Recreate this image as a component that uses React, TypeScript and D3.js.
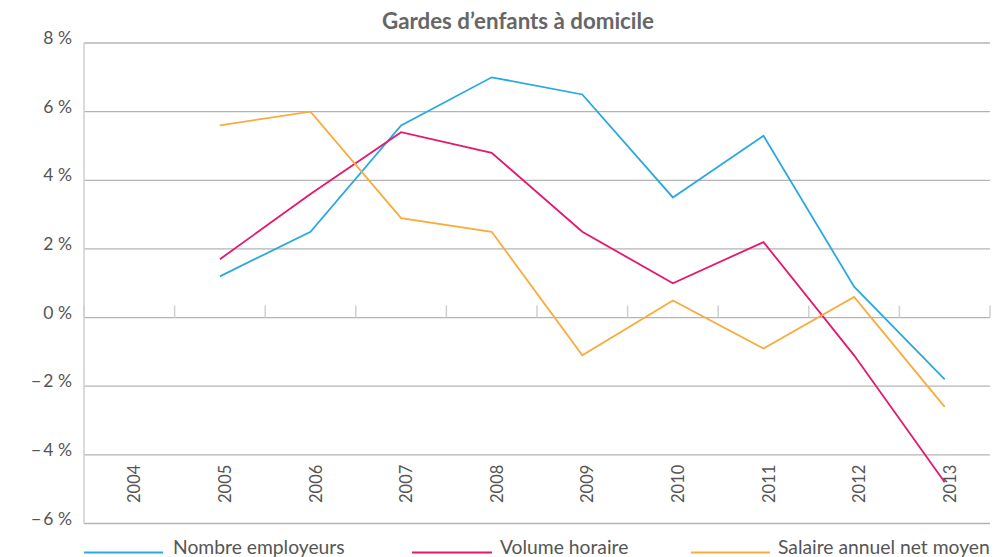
import React from "react";
import * as d3 from "d3";

const years = ["2004", "2005", "2006", "2007", "2008", "2009", "2010", "2011", "2012", "2013"];
const dataYears = ["2005", "2006", "2007", "2008", "2009", "2010", "2011", "2012", "2013"];
const nombreEmployeurs = [1.2, 2.5, 5.6, 7.0, 6.5, 3.5, 5.3, 0.9, -1.8];
const volumeHoraire = [1.7, 3.6, 5.4, 4.8, 2.5, 1.0, 2.2, -1.1, -4.8];
const salaireAnnuel = [5.6, 6.0, 2.9, 2.5, -1.1, 0.5, -0.9, 0.6, -2.6];
const yTicks = [8, 6, 4, 2, 0, -2, -4, -6];
const seriesNames = ["Nombre employeurs", "Volume horaire", "Salaire annuel net moyen"];
const seriesColors = ["#2aa9df", "#e5176f", "#f9ab3b"];
const title = "Gardes d\u2019enfants \u00e0 domicile";

const W = 996;
const H = 557;
const left = 84;
const right = 990;
const top = 43;
const bottom = 523.5;
const FONT = "Lato, 'Open Sans', sans-serif";

export default function App() {
  const x = d3.scaleBand().domain(years).range([left, right]).padding(0);
  const y = d3.scaleLinear().domain([-6, 8]).range([bottom, top]);
  const cx = (yr: string) => (x(yr) as number) + x.bandwidth() / 2;
  const series = [nombreEmployeurs, volumeHoraire, salaireAnnuel];
  const line = d3
    .line<[string, number]>()
    .x((d) => cx(d[0]))
    .y((d) => y(d[1]));
  const fmt = (v: number) => (v < 0 ? "\u2212\u2009" + Math.abs(v) : String(v)) + "\u00a0%";
  const legendX = [[84, 163, 173], [412, 492, 500], [691, 770, 778]];
  return (
    <svg width={W} height={H} style={{ position: "absolute", left: 0, top: 0, background: "#fff" }}>
      <text x={518} y={29} textAnchor="middle" fontFamily={FONT} fontWeight="bold" fontSize={22.3} fill="#666">
        {title}
      </text>
      {yTicks.map((t) => (
        <g key={t}>
          <line x1={left} x2={right} y1={y(t)} y2={y(t)} stroke="#b4b4b4" strokeWidth={1.3} />
          <text x={72} y={y(t) + 1} textAnchor="end" fontFamily={FONT} fontSize={17.5} fill="#555">
            {fmt(t)}
          </text>
        </g>
      ))}
      <line x1={left} x2={left} y1={top} y2={bottom} stroke="#cfcfcf" strokeWidth={1.5} />
      {years.map((yr) => (
        <line
          key={"t" + yr}
          x1={x(yr) as number}
          x2={x(yr) as number}
          y1={y(0)}
          y2={y(0) - 12}
          stroke="#cfcfcf"
          strokeWidth={1.5}
        />
      ))}
      <line x1={right} x2={right} y1={y(0)} y2={y(0) - 12} stroke="#cfcfcf" strokeWidth={1.5} />
      {years.map((yr) => (
        <text
          key={"l" + yr}
          transform={`translate(${cx(yr) + 11},503) rotate(-90)`}
          textAnchor="start"
          fontFamily={FONT}
          fontSize={16.5}
          fill="#555"
        >
          {yr}
        </text>
      ))}
      {series.map((vals, si) => (
        <path
          key={"s" + si}
          d={line(dataYears.map((yr, i) => [yr, vals[i]] as [string, number])) || ""}
          fill="none"
          stroke={seriesColors[si]}
          strokeWidth={1.8}
        />
      ))}
      {seriesNames.map((n, i) => (
        <g key={"lg" + n}>
          <line x1={legendX[i][0]} x2={legendX[i][1]} y1={552.5} y2={552.5} stroke={seriesColors[i]} strokeWidth={2.2} />
          <text x={legendX[i][2]} y={553.5} fontFamily={FONT} fontSize={19.3} fill="#555">
            {n}
          </text>
        </g>
      ))}
    </svg>
  );
}
